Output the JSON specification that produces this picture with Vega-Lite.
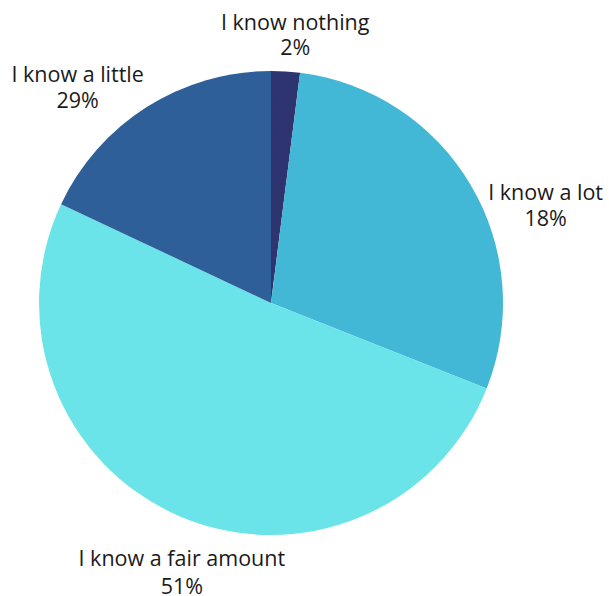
{
  "$schema": "https://vega.github.io/schema/vega-lite/v6.json",
  "width": 542,
  "height": 586,
  "autosize": {"type": "none"},
  "padding": {"left": 0, "top": 10, "right": 67, "bottom": 0},
  "background": "white",
  "config": {"view": {"stroke": null}},
  "data": {
    "values": [
      {"order": 1, "slice": "A", "value": 2, "name": "I know nothing", "pct": "2%"},
      {"order": 2, "slice": "B", "value": 29, "name": "I know a lot", "pct": "18%"},
      {"order": 3, "slice": "C", "value": 51, "name": "I know a fair amount", "pct": "51%"},
      {"order": 4, "slice": "D", "value": 18, "name": "I know a little", "pct": "29%"}
    ]
  },
  "encoding": {
    "theta": {"field": "value", "type": "quantitative", "stack": true},
    "order": {"field": "order", "type": "quantitative"}
  },
  "layer": [
    {
      "mark": {"type": "arc", "outerRadius": 232},
      "encoding": {
        "color": {
          "field": "slice",
          "type": "nominal",
          "legend": null,
          "scale": {"domain": ["A", "B", "C", "D"], "range": ["#2e3470", "#43b8d6", "#6ae4e8", "#2e5f99"]}
        }
      }
    },
    {
      "mark": {
        "type": "text", "radius": 290, "font": "Open Sans", "fontSize": 21.5, "color": "#1a1a1a",
        "align": "center", "baseline": "middle",
        "dx": {"expr": "datum.order == 1 ? 6 : datum.order == 2 ? 25 : datum.order == 4 ? -38 : 26"},
        "dy": {"expr": "datum.order == 1 ? 10 : datum.order == 2 ? 39 : datum.order == 4 ? 18 : -9"}
      },
      "encoding": {"text": {"field": "name"}}
    },
    {
      "mark": {
        "type": "text", "radius": 290, "font": "Open Sans", "fontSize": 21.5, "color": "#1a1a1a",
        "align": "center", "baseline": "middle",
        "dx": {"expr": "datum.order == 1 ? 6 : datum.order == 2 ? 25 : datum.order == 4 ? -38 : 26"},
        "dy": {"expr": "datum.order == 1 ? 35 : datum.order == 2 ? 65 : datum.order == 4 ? 44 : 19"}
      },
      "encoding": {"text": {"field": "pct"}}
    }
  ]
}
